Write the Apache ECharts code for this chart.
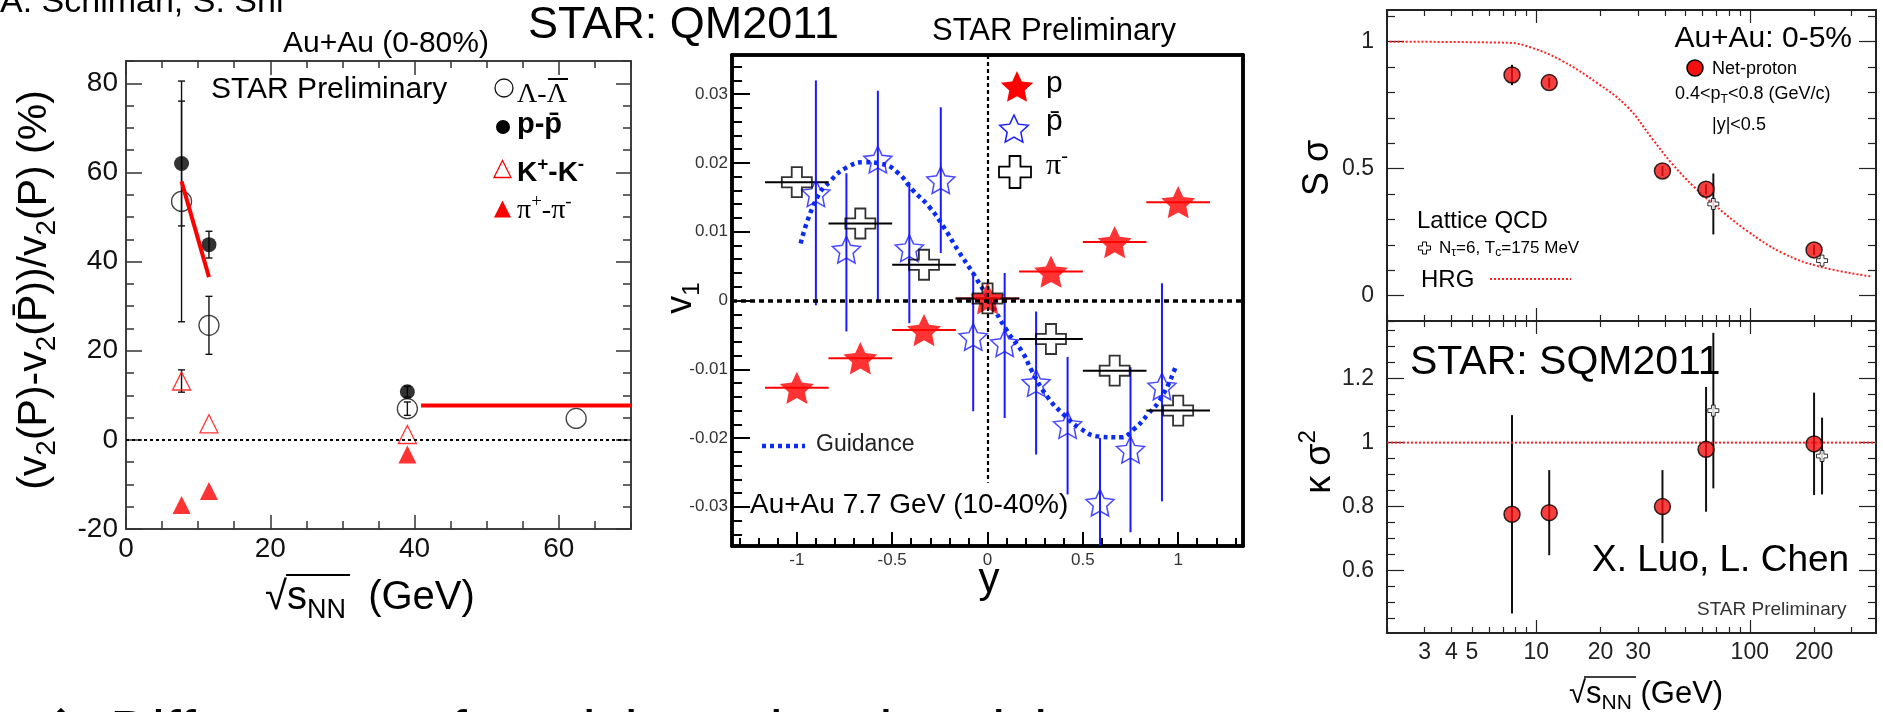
<!DOCTYPE html>
<html>
<head>
<meta charset="utf-8">
<script src="https://cdn.jsdelivr.net/npm/echarts@6/dist/echarts.min.js"></script>
<style>
html, body { margin: 0; padding: 0; background: #fff; }
#c { width: 1883px; height: 712px; }
</style>
</head>
<body>
<div id="c"></div>
<script>
// ---------- v2 difference between particles and antiparticles ----------
const v2EnergyLambda = [7.7, 11.5, 39, 62.4];
const v2Lambda = [53.5, 25.7, 7.0, 4.8];
const v2LambdaErr = [27, 6.5, 1.5, 0];
const v2EnergyOther = [7.7, 11.5, 39];
const v2Proton = [62.0, 43.8, 10.8];
const v2ProtonErr = [14, 3, 1.2];
const v2Kaon = [13.2, 3.6, 1.2];
const v2KaonErr = [2.5, 0.6, 0.6];
const v2Pion = [-14.6, -11.5, -3.3];
const v2FitLowE = [7.7, 11.5];
const v2FitLowV = [58, 36.5];
const v2FitHighE = [40.9, 70];
const v2FitHighV = [7.7, 7.7];
const v2XLabels = [0, 20, 40, 60];
const v2YLabels = [-20, 0, 20, 40, 60, 80];

// ---------- directed flow v1 vs rapidity ----------
const rapidityBins = [-1, -0.667, -0.333, 0, 0.333, 0.667, 1];
const binHalfWidth = 0.167;
const v1Proton = [-0.0127, -0.0084, -0.0043, 0.0003, 0.0042, 0.0085, 0.0143];
const v1Pion = [0.0172, 0.0112, 0.0052, 0.0003, -0.0056, -0.0102, -0.0160];
const antiProtonY = [-0.9, -0.74, -0.575, -0.41, -0.245, -0.075, 0.09, 0.255, 0.42, 0.59, 0.75, 0.915];
const v1AntiProton = [0.0156, 0.0074, 0.0205, 0.0076, 0.0175, -0.0053, -0.0062, -0.0120, -0.0181, -0.0294, -0.0217, -0.0125];
const v1AntiProtonLow = [-0.0007, -0.0045, 0.0, -0.0033, 0.0069, -0.0161, -0.0171, -0.0224, -0.0282, -0.0356, -0.0337, -0.0292];
const v1AntiProtonHigh = [0.0320, 0.0185, 0.0305, 0.0172, 0.0281, 0.0042, 0.0040, -0.0016, -0.0082, -0.0200, -0.0097, 0.0025];
const guideY = [-0.98, -0.9, -0.82, -0.735, -0.645, -0.56, -0.475, -0.39, -0.305, -0.23, -0.155, -0.07, 0.01, 0.1, 0.187, 0.23, 0.314, 0.4, 0.486, 0.59, 0.7, 0.764, 0.84, 0.915, 0.99];
const guideV1 = [0.0083, 0.0146, 0.0175, 0.0194, 0.0201, 0.0199, 0.0187, 0.0160, 0.0136, 0.0107, 0.0073, 0.0037, 0.0, -0.0043, -0.0077, -0.0101, -0.0140, -0.0166, -0.0186, -0.0198, -0.0199, -0.0188, -0.0166, -0.0140, -0.0094];
const v1Range = [-0.0357, 0.0357];
const rapidityRange = [-1.34, 1.34];
const midRapidityLineEnd = -0.0265;
const v1XLabels = [-1, -0.5, 0, 0.5, 1];
const v1YLabels = [-0.03, -0.02, -0.01, 0, 0.01, 0.02, 0.03];

// ---------- net-proton higher moments vs energy ----------
const besEnergy = [7.7, 11.5, 39, 62.4, 200];
const sSigma = [0.869, 0.839, 0.491, 0.419, 0.180];
const sSigmaErr = [0.04, 0.02, 0.02, 0.02, 0.02];
const kSigma2 = [0.776, 0.781, 0.800, 0.979, 0.996];
const kSigma2Err = [0.31, 0.133, 0.114, 0.195, 0.16];
const latticeEnergy = [67.5, 218];
const latticeSSigma = [0.361, 0.138];
const latticeSSigmaErr = [0.12, 0];
const latticeKSigma2 = [1.10, 0.958];
const latticeKSigma2Err = [0.243, 0.12];
const hrgEnergy = [2.06, 7.4, 9.4, 13, 19.4, 26.7, 35.3, 43.1, 54.7, 66.8, 95.7, 143, 213, 373];
const hrgSSigma = [1.0, 0.996, 0.978, 0.928, 0.836, 0.744, 0.613, 0.521, 0.429, 0.364, 0.259, 0.167, 0.114, 0.075];
const hrgKSigma2 = 1;
const energyRange = [2, 390];
const energyLabels = [3, 4, 5, 10, 20, 30, 100, 200];
const energyMajor = [10, 100];
const sSigmaRange = [-0.1, 1.125];
const sSigmaLabels = [0, 0.5, 1];
const kSigma2Range = [0.405, 1.38];
const kSigma2Labels = [0.6, 0.8, 1, 1.2];

const FONT = "'Liberation Sans', Arial, Helvetica, sans-serif";
const SERIF = "'Liberation Serif', 'Times New Roman', serif";
const lg = Math.log10;

function steps(a, b, d) {
  const out = [];
  for (let v = a; v <= b + 1e-9; v += d) out.push(+v.toFixed(6));
  return out;
}
function logMinor(lo, hi) {
  const out = [];
  for (let dec = 1; dec <= 1000; dec *= 10)
    for (let m = 1; m <= 9; m++) { const v = m * dec; if (v >= lo && v <= hi && energyMajor.indexOf(v) < 0) out.push(lg(v)); }
  return out;
}

// ---------- axes: each frame is four pairs of overlaid axes (major + minor ticks) ----------
const xAxes = [], yAxes = [];
function mk(gi, pos, range, ticks, len, line, tick, label) {
  return {
    type: 'value', gridIndex: gi, position: pos, offset: 0,
    min: range[0], max: range[1],
    axisLine: { show: true, onZero: false, lineStyle: line },
    axisTick: ticks && ticks.length
      ? { show: true, inside: true, length: len, customValues: ticks, lineStyle: tick }
      : { show: false },
    axisLabel: label
      ? { show: true, customValues: label.values, formatter: label.formatter, margin: label.margin,
          fontFamily: FONT, fontSize: label.fontSize, color: label.color }
      : { show: false },
    minorTick: { show: false }, splitLine: { show: false }, splitArea: { show: false },
    axisPointer: { show: false }, silent: true
  };
}
function buildFrame(gi, c) {
  const line = { color: c.frame, width: c.frameW };
  const tick = { color: c.frame, width: c.tickW };
  const xi = xAxes.length, yi = yAxes.length;
  const xl = c.xLabels ? { values: c.xLabels, margin: c.xMargin, formatter: c.xFmt, fontSize: c.labelSize, color: c.labelColor } : null;
  const yl = c.yLabels ? { values: c.yLabels, margin: c.yMargin, formatter: c.yFmt, fontSize: c.labelSize, color: c.labelColor } : null;
  xAxes.push(mk(gi, 'bottom', c.xRange, c.xMajor, c.xLen[0], line, tick, xl));
  xAxes.push(mk(gi, 'bottom', c.xRange, c.xMinor, c.xLen[1], line, tick, null));
  xAxes.push(mk(gi, 'top', c.xRange, c.top ? c.xMajor : null, c.topLen[0], line, tick, null));
  xAxes.push(mk(gi, 'top', c.xRange, c.top ? c.xMinor : null, c.topLen[1], line, tick, null));
  yAxes.push(mk(gi, 'left', c.yRange, c.yMajor, c.yLen[0], line, tick, yl));
  yAxes.push(mk(gi, 'left', c.yRange, c.yMinor, c.yLen[1], line, tick, null));
  yAxes.push(mk(gi, 'right', c.yRange, c.right ? c.yMajor : null, c.rightLen[0], line, tick, null));
  yAxes.push(mk(gi, 'right', c.yRange, c.right ? c.yMinor : null, c.rightLen[1], line, tick, null));
  return { xAxisIndex: xi, yAxisIndex: yi };
}

const A1 = buildFrame(0, {
  frame: '#333', frameW: 1.5, tickW: 1.5, labelSize: 28, labelColor: '#111',
  xRange: [0, 70], xMajor: v2XLabels, xMinor: steps(0, 70, 5).filter(v => v % 20), xLabels: v2XLabels, xMargin: 6,
  yRange: [-20, 85], yMajor: v2YLabels, yMinor: steps(-20, 85, 5).filter(v => v % 20), yLabels: v2YLabels, yMargin: 8,
  xLen: [14, 8], yLen: [16, 8], top: true, topLen: [14, 7], right: true, rightLen: [15, 8]
});
const A2 = buildFrame(1, {
  frame: '#000', frameW: 3.5, tickW: 2, labelSize: 17, labelColor: '#333',
  xRange: rapidityRange, xMajor: v1XLabels, xMinor: steps(-1.3, 1.3, 0.1).filter(v => Math.abs(v * 2 - Math.round(v * 2)) > 1e-6),
  xLabels: v1XLabels, xMargin: 6,
  yRange: v1Range, yMajor: v1YLabels, yMinor: steps(-0.034, 0.034, 0.002).filter(v => Math.abs(v * 100 - Math.round(v * 100)) > 1e-6),
  yLabels: v1YLabels, yMargin: 4,
  xLen: [14, 8], yLen: [18, 10], top: false, topLen: [0, 0], right: false, rightLen: [0, 0]
});
const logFmt = v => String(Math.round(Math.pow(10, v)));
const A3 = buildFrame(2, {
  frame: '#222', frameW: 2, tickW: 1.2, labelSize: 23, labelColor: '#222',
  xRange: energyRange.map(lg), xMajor: energyMajor.map(lg), xMinor: logMinor(2, 390), xLabels: null,
  yRange: sSigmaRange, yMajor: sSigmaLabels, yMinor: steps(-0.1, 1.1, 0.1).filter(v => Math.abs(v * 2 - Math.round(v * 2)) > 1e-6),
  yLabels: sSigmaLabels, yMargin: 13,
  xLen: [13, 6], yLen: [17, 8], top: true, topLen: [13, 6], right: true, rightLen: [17, 8]
});
const A4 = buildFrame(3, {
  frame: '#222', frameW: 2, tickW: 1.2, labelSize: 23, labelColor: '#222',
  xRange: energyRange.map(lg), xMajor: energyMajor.map(lg), xMinor: logMinor(2, 390),
  xLabels: energyLabels.map(lg), xFmt: logFmt, xMargin: 8,
  yRange: kSigma2Range, yMajor: kSigma2Labels, yMinor: steps(0.45, 1.35, 0.05).filter(v => Math.abs(v * 5 - Math.round(v * 5)) > 1e-6),
  yLabels: kSigma2Labels, yMargin: 13,
  xLen: [13, 6], yLen: [17, 8], top: true, topLen: [13, 6], right: true, rightLen: [17, 8]
});

// ---------- series helpers ----------
function errV(axes, rows, color, width, cap, z) {
  return Object.assign({
    type: 'custom', silent: true, clip: true, z: z || 2,
    encode: { x: 0, y: [1, 2] }, data: rows,
    renderItem: (params, api) => {
      const x = api.value(0);
      const p = api.coord([x, api.value(1)]), q = api.coord([x, api.value(2)]);
      const st = { stroke: color, lineWidth: width };
      const ch = [{ type: 'line', shape: { x1: p[0], y1: p[1], x2: q[0], y2: q[1] }, style: st }];
      if (cap) {
        ch.push({ type: 'line', shape: { x1: p[0] - cap, y1: p[1], x2: p[0] + cap, y2: p[1] }, style: st });
        ch.push({ type: 'line', shape: { x1: q[0] - cap, y1: q[1], x2: q[0] + cap, y2: q[1] }, style: st });
      }
      return { type: 'group', children: ch };
    }
  }, axes);
}
function errH(axes, rows, color, width, z) {
  return Object.assign({
    type: 'custom', silent: true, clip: true, z: z || 2,
    encode: { x: [0, 1], y: 2 }, data: rows,
    renderItem: (params, api) => {
      const y = api.value(2);
      const p = api.coord([api.value(0), y]), q = api.coord([api.value(1), y]);
      return { type: 'line', shape: { x1: p[0], y1: p[1], x2: q[0], y2: q[1] }, style: { stroke: color, lineWidth: width } };
    }
  }, axes);
}
function scatter(axes, data, symbol, size, itemStyle, z) {
  return Object.assign({ type: 'scatter', silent: true, symbol, symbolSize: size, symbolKeepAspect: true,
    itemStyle, data, z: z || 3 }, axes);
}
const zip = (a, b) => a.map((v, i) => [v, b[i]]);

function starPath(inner) {
  let d = '';
  for (let i = 0; i < 10; i++) {
    const r = i % 2 ? inner : 1, a = -Math.PI / 2 + i * Math.PI / 5;
    d += (i ? 'L' : 'M') + (50 + 50 * r * Math.cos(a)).toFixed(2) + ',' + (50 + 50 * r * Math.sin(a)).toFixed(2);
  }
  return d + 'Z';
}
const STAR = 'path://' + starPath(0.48);
const CROSS = 'path://M33,0L67,0L67,33L100,33L100,67L67,67L67,100L33,100L33,67L0,67L0,33L33,33Z';
const NONE = 'rgba(255,255,255,0)';

const series = [
  // v2 panel
  errV(A1, v2EnergyLambda.map((e, i) => [e, v2Lambda[i] - v2LambdaErr[i], v2Lambda[i] + v2LambdaErr[i]]).filter(r => r[2] > r[1]), '#111', 1.4, 3.5),
  errV(A1, v2EnergyOther.map((e, i) => [e, v2Proton[i] - v2ProtonErr[i], v2Proton[i] + v2ProtonErr[i]]), '#111', 1.4, 3.5),
  errV(A1, v2EnergyOther.slice(0, 1).map((e, i) => [e, v2Kaon[i] - v2KaonErr[i], v2Kaon[i] + v2KaonErr[i]]), '#111', 1.4, 3.5),
  Object.assign({ type: 'line', silent: true, symbol: 'none', data: [], z: 1,
    markLine: { silent: true, symbol: ['none', 'none'], label: { show: false },
      lineStyle: { color: '#000', width: 2.2, type: [3, 3] }, data: [{ yAxis: 0 }] } }, A1),
  Object.assign({ type: 'line', silent: true, symbol: 'none', data: zip(v2FitLowE, v2FitLowV),
    lineStyle: { color: '#ff0000', width: 4 }, z: 4 }, A1),
  Object.assign({ type: 'line', silent: true, symbol: 'none', data: zip(v2FitHighE, v2FitHighV),
    lineStyle: { color: '#ff0000', width: 4 }, z: 4 }, A1),
  scatter(A1, zip(v2EnergyLambda, v2Lambda), 'circle', 20, { color: NONE, borderColor: '#111', borderWidth: 1.3 }),
  scatter(A1, zip(v2EnergyOther, v2Proton), 'circle', 15, { color: '#000' }),
  scatter(A1, zip(v2EnergyOther, v2Kaon), 'triangle', 18, { color: NONE, borderColor: '#ff0000', borderWidth: 1.3 }),
  scatter(A1, zip(v2EnergyOther, v2Pion), 'triangle', 18, { color: '#ff0000' }),

  // v1 panel
  Object.assign({ type: 'line', silent: true, symbol: 'none', data: [], z: 1,
    markLine: { silent: true, symbol: ['none', 'none'], label: { show: false },
      lineStyle: { color: '#000', width: 3.5, type: [5, 4] }, data: [{ yAxis: 0 }] } }, A2),
  Object.assign({ type: 'line', silent: true, symbol: 'none', data: [], z: 1,
    markLine: { silent: true, symbol: ['none', 'none'], label: { show: false },
      lineStyle: { color: '#000', width: 2.2, type: [4, 3] },
      data: [[{ coord: [0, v1Range[1]] }, { coord: [0, midRapidityLineEnd] }]] } }, A2),
  Object.assign({ type: 'line', silent: true, symbol: 'none', smooth: 0.5, data: zip(guideY, guideV1),
    lineStyle: { color: '#0a2cf5', width: 4.5, type: [4, 4] }, z: 2 }, A2),
  errV(A2, antiProtonY.map((y, i) => [y, v1AntiProtonLow[i], v1AntiProtonHigh[i]]), '#1a1aff', 2, 0, 2),
  errH(A2, rapidityBins.map((y, i) => [y - binHalfWidth, y + binHalfWidth, v1Proton[i]]), '#ff0000', 2, 2),
  errH(A2, rapidityBins.map((y, i) => [y - binHalfWidth, y + binHalfWidth, v1Pion[i]]), '#000', 2, 3),
  scatter(A2, zip(rapidityBins, v1Proton), STAR, 34, { color: '#ff0000' }, 3),
  scatter(A2, zip(antiProtonY, v1AntiProton), STAR, 28, { color: NONE, borderColor: '#1a1aff', borderWidth: 1.5 }, 4),
  scatter(A2, zip(rapidityBins, v1Pion), CROSS, 30, { color: NONE, borderColor: '#000', borderWidth: 1.8 }, 5),

  // S sigma pad
  Object.assign({ type: 'line', silent: true, symbol: 'none', smooth: 0.4, data: zip(hrgEnergy.map(lg), hrgSSigma),
    lineStyle: { color: '#ff2020', width: 2, type: [2, 2] }, z: 2 }, A3),
  errV(A3, besEnergy.map((e, i) => [lg(e), sSigma[i] - sSigmaErr[i], sSigma[i] + sSigmaErr[i]]), '#111', 2, 0),
  errV(A3, latticeEnergy.map((e, i) => [lg(e), latticeSSigma[i] - latticeSSigmaErr[i], latticeSSigma[i] + latticeSSigmaErr[i]]).filter(r => r[2] > r[1]), '#111', 2, 0),
  scatter(A3, zip(besEnergy.map(lg), sSigma), 'circle', 16, { color: '#f50f0f', borderColor: '#000', borderWidth: 1.5 }),
  scatter(A3, zip(latticeEnergy.map(lg), latticeSSigma), CROSS, 11, { color: '#fff', borderColor: '#000', borderWidth: 1 }, 4),

  // kappa sigma^2 pad
  Object.assign({ type: 'line', silent: true, symbol: 'none', data: energyRange.map(e => [lg(e), hrgKSigma2]),
    lineStyle: { color: '#ff2020', width: 2, type: [2, 2] }, z: 2 }, A4),
  errV(A4, besEnergy.map((e, i) => [lg(e), kSigma2[i] - kSigma2Err[i], kSigma2[i] + kSigma2Err[i]]), '#111', 2, 0),
  errV(A4, latticeEnergy.map((e, i) => [lg(e), latticeKSigma2[i] - latticeKSigma2Err[i], latticeKSigma2[i] + latticeKSigma2Err[i]]), '#111', 2, 0),
  scatter(A4, zip(besEnergy.map(lg), kSigma2), 'circle', 16, { color: '#f50f0f', borderColor: '#000', borderWidth: 1.5 }),
  scatter(A4, zip(latticeEnergy.map(lg), latticeKSigma2), CROSS, 11, { color: '#fff', borderColor: '#000', borderWidth: 1 }, 4)
];

// ---------- annotations, legends and axis titles ----------
function txt(x, y, text, size, o) {
  o = o || {};
  const fam = o.family || FONT, w = o.weight || 'normal';
  const sub = Math.round(size * 0.68);
  const lh = Math.round(size * 1.3);
  return {
    type: 'text', x, y, rotation: o.rotation || 0, silent: true, z: 100,
    style: {
      text, fill: o.color || '#000', fontFamily: fam, fontSize: size, fontWeight: w, lineHeight: lh,
      align: o.align || 'left', verticalAlign: 'middle', textAlign: o.align || 'left', textVerticalAlign: 'middle',
      rich: {
        s: { fontFamily: fam, fontSize: sub, fontWeight: w, fill: o.color || '#000', verticalAlign: 'bottom', lineHeight: sub },
        u: { fontFamily: fam, fontSize: sub, fontWeight: w, fill: o.color || '#000', verticalAlign: 'top', lineHeight: sub }
      }
    }
  };
}
function gline(x1, y1, x2, y2, color, width, dash) {
  return { type: 'line', silent: true, z: 100, shape: { x1, y1, x2, y2 },
    style: { stroke: color, lineWidth: width, lineDash: dash || null } };
}
function polyAt(cx, cy, size, pts) {
  return pts.map(p => [cx + (p[0] - 50) / 100 * size, cy + (p[1] - 50) / 100 * size]);
}
function starPts(inner) {
  const out = [];
  for (let i = 0; i < 10; i++) {
    const r = i % 2 ? inner : 1, a = -Math.PI / 2 + i * Math.PI / 5;
    out.push([50 + 50 * r * Math.cos(a), 50 + 50 * r * Math.sin(a)]);
  }
  return out;
}
const crossPts = [[33, 0], [67, 0], [67, 33], [100, 33], [100, 67], [67, 67], [67, 100], [33, 100], [33, 67], [0, 67], [0, 33], [33, 33]];
const triPts = [[50, 0], [100, 100], [0, 100]];
function poly(points, style) { return { type: 'polygon', silent: true, z: 100, shape: { points }, style }; }

const elements = [
  // left panel
  txt(0, 3, 'A. Schiman, S. Shi', 34),
  txt(386, 44, 'Au+Au (0-80%)', 30, { align: 'center' }),
  txt(211, 90, 'STAR Preliminary', 30),
  { type: 'circle', silent: true, z: 100, shape: { cx: 504, cy: 88, r: 9 }, style: { fill: NONE, stroke: '#111', lineWidth: 1.3 } },
  txt(517, 95, 'Λ-Λ', 28, { family: SERIF }),
  gline(548, 79, 568, 79, '#000', 2),
  { type: 'circle', silent: true, z: 100, shape: { cx: 503, cy: 127, r: 7 }, style: { fill: '#000' } },
  txt(517, 125, 'p-p\u0304', 29, { weight: 'bold' }),
  poly(polyAt(502.5, 169, 17, triPts), { fill: NONE, stroke: '#ff0000', lineWidth: 1.3 }),
  txt(517, 173, 'K{u|+}-K{u|-}', 28, { weight: 'bold' }),
  poly(polyAt(502.5, 209, 17, triPts), { fill: '#ff0000' }),
  txt(517, 211, 'π{u|+}-π{u|-}', 28, { family: SERIF }),
  txt(35, 290, '(v{s|2}(P)-v{s|2}(P\u0304))/v{s|2}(P) (%)', 41, { rotation: Math.PI / 2, align: 'center' }),
  txt(265, 598, '√s{s|NN}  (GeV)', 40),
  gline(286, 575, 350, 575, '#000', 2),

  // middle panel
  txt(528, 26, 'STAR: QM2011', 45),
  txt(932, 31, 'STAR Preliminary', 31),
  poly(polyAt(1017, 88, 34, starPts(0.48)), { fill: '#ff0000' }),
  txt(1046, 84, 'p', 30),
  poly(polyAt(1014, 130, 30, starPts(0.48)), { fill: NONE, stroke: '#1a1aff', lineWidth: 1.5 }),
  txt(1046, 122, 'p\u0304', 30),
  poly(polyAt(1015, 172, 32, crossPts), { fill: NONE, stroke: '#000', lineWidth: 1.8 }),
  txt(1046, 166, 'π{u|-}', 30, { family: SERIF }),
  gline(762, 446, 805, 446, '#0a2cf5', 4.5, [4, 4]),
  txt(816, 445, 'Guidance', 23, { color: '#222' }),
  txt(750, 505, 'Au+Au 7.7 GeV (10-40%)', 28),
  txt(681, 298, 'v{s|1}', 36, { rotation: Math.PI / 2, align: 'center' }),
  txt(989, 580, 'y', 42, { align: 'center' }),

  // right panel
  txt(1852, 39, 'Au+Au: 0-5%', 30, { align: 'right' }),
  { type: 'circle', silent: true, z: 100, shape: { cx: 1695, cy: 68, r: 8 }, style: { fill: '#f50f0f', stroke: '#000', lineWidth: 1.5 } },
  txt(1712, 69, 'Net-proton', 18),
  txt(1675, 94, '0.4<p{s|T}<0.8 (GeV/c)', 18),
  txt(1712, 125, '|y|<0.5', 18),
  txt(1417, 221, 'Lattice QCD', 24),
  poly(polyAt(1424.5, 248, 12, crossPts), { fill: '#fff', stroke: '#000', lineWidth: 1 }),
  txt(1439, 248, 'N{s|τ}=6, T{s|c}=175 MeV', 17),
  txt(1421, 280, 'HRG', 24),
  gline(1490, 279, 1571, 279, '#ff2020', 2, [2, 2]),
  txt(1318, 168, 'S σ', 36, { rotation: Math.PI / 2, align: 'center' }),
  txt(1320, 462, 'κ σ{u|2}', 36, { rotation: Math.PI / 2, align: 'center' }),
  txt(1410, 363, 'STAR: SQM2011', 41),
  txt(1592, 561, 'X. Luo, L. Chen', 37),
  txt(1697, 610, 'STAR Preliminary', 19, { color: '#333' }),
  txt(1569, 694, '√s{s|NN} (GeV)', 31),
  gline(1584, 677, 1636, 677, '#000', 1.6),

  // slide text below the figures
  txt(44, 724, '◆', 44),
  txt(110, 735, 'Differences of particle and antiparticle', 58)
];

const chart = echarts.init(document.getElementById('c'), null, { renderer: 'canvas', width: 1883, height: 712 });
const gridOf = (l, t, w, h) => ({ left: l, top: t, width: w, height: h, containLabel: false, outerBoundsMode: 'none' });
chart.setOption({
  animation: false,
  backgroundColor: '#ffffff',
  tooltip: { show: false },
  grid: [gridOf(126, 61, 505, 468), gridOf(732, 55, 511, 491), gridOf(1387, 10, 489, 311), gridOf(1387, 321, 489, 312)],
  xAxis: xAxes,
  yAxis: yAxes,
  series,
  graphic: { elements }
});
</script>
</body>
</html>
